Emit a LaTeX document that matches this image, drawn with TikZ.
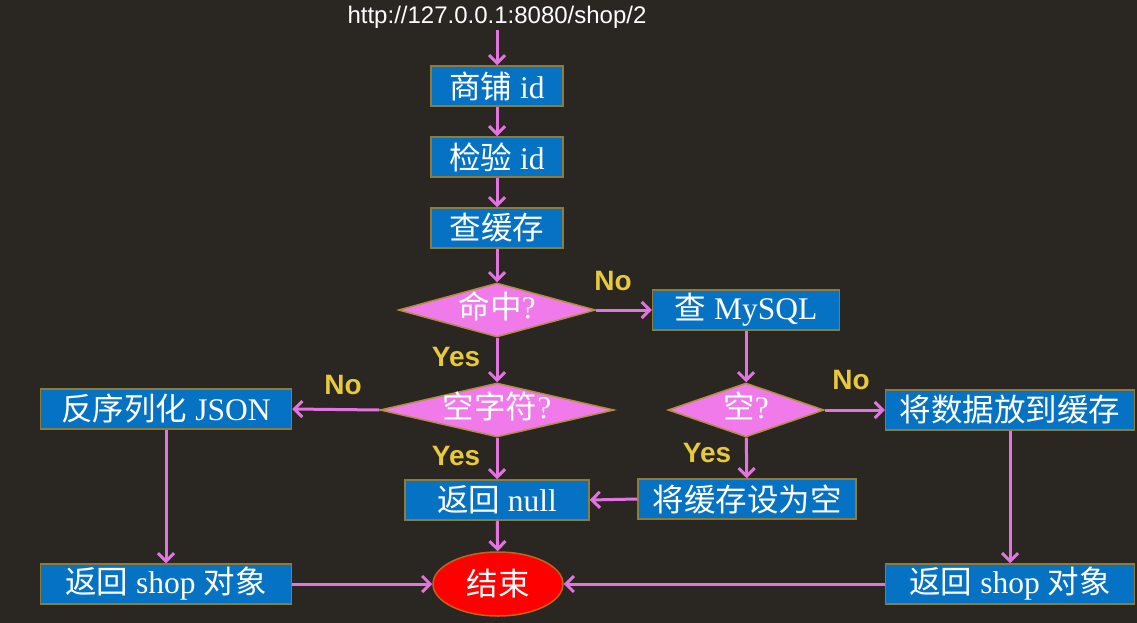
\documentclass[tikz,border=0pt]{standalone}
\usepackage{fontspec}
\setmainfont{Liberation Serif}
\setsansfont{Liberation Sans}
\newfontfamily\cjk{Noto Sans CJK SC}
\usetikzlibrary{shapes.geometric,arrows.meta}

\begin{document}
\begin{tikzpicture}[x=1pt,y=-1pt]
    \def\boxh{40pt}
    \def\dmdh{54pt}

    \definecolor{bg-dark}{HTML}{2A2622}
    \definecolor{box-blue}{HTML}{0572C4}
    \definecolor{box-edge}{HTML}{8C7D3C}
    \definecolor{dmd-fill}{HTML}{F07AEA}
    \definecolor{dmd-edge}{HTML}{B0903A}
    \definecolor{flow-pink}{HTML}{E274E0}
    \definecolor{yn-yellow}{HTML}{E8C83C}
    \definecolor{end-red}{HTML}{FF0000}
    \definecolor{end-edge}{HTML}{C0641E}

    \tikzset{
      stepbox/.style={
        draw=box-edge,
        line width=1.5pt,
        fill=box-blue,
        text=white,
        font=\fontsize{31.5}{36}\selectfont,
        minimum height=\boxh,
        inner sep=0pt
      },
      decision/.style={
        diamond,
        aspect=4,
        draw=dmd-edge,
        line width=1.5pt,
        fill=dmd-fill,
        text=white,
        font=\fontsize{31.5}{36}\selectfont,
        minimum height=\dmdh,
        inner sep=0pt,
        text height=20pt,
        text depth=4pt
      },
      finish/.style={
        ellipse,
        draw=end-edge,
        line width=1.5pt,
        fill=end-red,
        text=white,
        font=\fontsize{31.5}{36}\selectfont,
        minimum width=130pt,
        minimum height=64pt,
        inner sep=0pt
      },
      yn/.style={
        text=yn-yellow,
        font=\sffamily\bfseries\fontsize{28}{32}\selectfont
      },
      flow/.style={
        -{Straight Barb[length=8pt,width=16pt,line width=3pt]},
        draw=flow-pink,
        line width=3pt
      }
    }

    \useasboundingbox (0,0) rectangle (1137,623);
    \fill[bg-dark] (0,0) rectangle (1137,623);

    % main column
    \node[text=white, font=\sffamily\fontsize{24}{28}\selectfont, inner sep=2pt] (url) at (497,17) {http://127.0.0.1:8080/shop/2};
    \node[stepbox, minimum width=132pt] (shopid) at (497,86) {{\cjk 商铺} id};
    \node[stepbox, minimum width=132pt] (check) at (497,157) {{\cjk 检验} id};
    \node[stepbox, minimum width=132pt] (cache) at (497,228) {\cjk 查缓存};
    \node[decision, minimum width=197pt] (hit) at (497,310) {{\cjk 命中}?};
    \node[decision, minimum width=234pt] (blank) at (497,410) {{\cjk 空字符}?};
    \node[stepbox, minimum width=184pt] (retnull) at (497,500) {{\cjk 返回} null};
    \node[finish] (done) at (498,584) {\cjk 结束};

    % left branch
    \node[stepbox, minimum width=251pt] (json) at (166,409) {{\cjk 反序列化} JSON};
    \node[stepbox, minimum width=251pt] (retleft) at (166,584) {{\cjk 返回} shop {\cjk 对象}};

    % right branch
    \node[stepbox, minimum width=187pt] (mysql) at (746,310) {{\cjk 查} MySQL};
    \node[decision, minimum width=156pt] (empty) at (746,410) {{\cjk 空}?};
    \node[stepbox, minimum width=218pt] (setnull) at (747,499) {\cjk 将缓存设为空};
    \node[stepbox, minimum width=249pt] (store) at (1010,410) {\cjk 将数据放到缓存};
    \node[stepbox, minimum width=249pt] (retright) at (1010,584) {{\cjk 返回} shop {\cjk 对象}};

    % yes / no labels
    \node[yn] (no1) at (613,281) {No};
    \node[yn] (yes1) at (456,357) {Yes};
    \node[yn] (no2) at (343,385) {No};
    \node[yn] (yes2) at (456,456) {Yes};
    \node[yn] (no3) at (851,380) {No};
    \node[yn] (yes3) at (707,453) {Yes};

    \draw[flow] (url) -- (shopid);
    \draw[flow] (shopid) -- (check);
    \draw[flow] (check) -- (cache);
    \draw[flow] (cache) -- (hit);
    \draw[flow] (hit) -- (blank);
    \draw[flow] (hit.east) -- (mysql.west);
    \draw[flow] (blank) -- (retnull);
    \draw[flow] (blank.west) -- (json.east);
    \draw[flow] (retnull) -- (done);
    \draw[flow] (json) -- (retleft);
    \draw[flow] (retleft.east) -- (done.west);
    \draw[flow] (mysql) -- (empty);
    \draw[flow] (empty.east) -- (store.west);
    \draw[flow] (empty) -- (setnull);
    \draw[flow] (setnull.west) -- (retnull.east);
    \draw[flow] (store) -- (retright);
    \draw[flow] (retright.west) -- (done.east);
\end{tikzpicture}
\end{document}
